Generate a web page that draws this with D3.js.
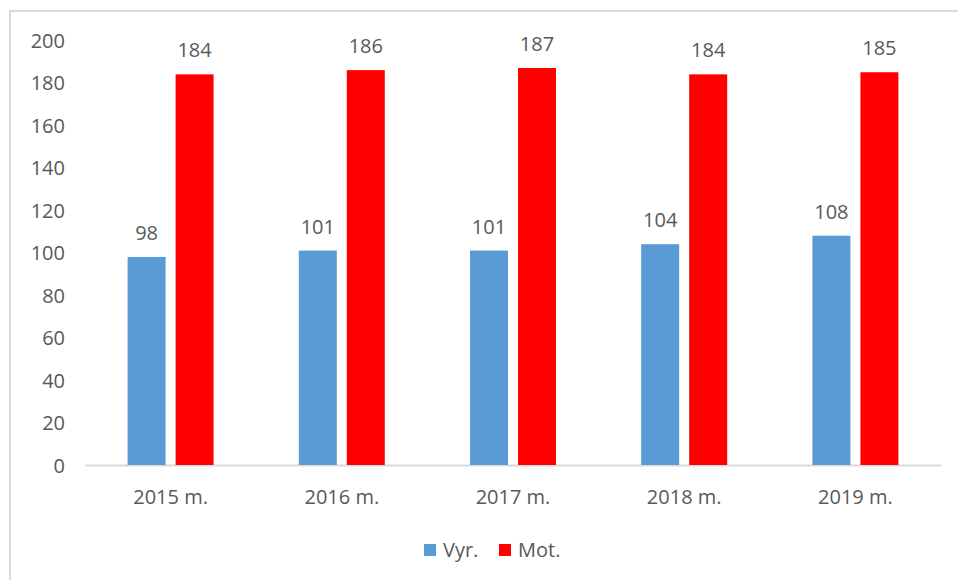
<!DOCTYPE html>
<html><head><meta charset="utf-8">
<script src="https://cdn.jsdelivr.net/npm/d3@7"></script>
<style>
body{margin:0;background:#fff;}
text{font-family:"Open Sans","Liberation Sans",sans-serif;fill:#595959;}
</style></head>
<body><svg id="c" width="958" height="580"></svg>
<script>
const categories = ["2015 m.","2016 m.","2017 m.","2018 m.","2019 m."];
const seriesNames = ["Vyr.","Mot."];
const vyr = [98,101,101,104,108];
const mot = [184,186,187,184,185];
const yTicks = [0,20,40,60,80,100,120,140,160,180,200];
const colors = ["#5b9bd5","#ff0000"];

const svg = d3.select("#c");
const FS = 20;
// outer border
svg.append("rect").attr("x",10).attr("y",11).attr("width",960).attr("height",600)
  .attr("fill","none").attr("stroke","#d9d9d9").attr("stroke-width",2);

const pLeft=85, pRight=941, pTop=40.4, pBottom=465;
const x = d3.scaleBand().domain(categories).range([pLeft,pRight]);
const y = d3.scaleLinear().domain([0,200]).range([pBottom,pTop]);
const bw = 38, gap = 10;
const off = s => s===seriesNames[0] ? -(gap/2+bw) : gap/2;

// y axis labels
const yAxis = d3.axisLeft(y).tickValues(yTicks).tickSize(0).tickPadding(0);
const ga = svg.append("g").attr("transform",`translate(65,0)`).call(yAxis);
ga.select(".domain").remove();
ga.selectAll("text").attr("font-size",FS).attr("fill","#595959").attr("font-family",null).attr("dy","0.35em");

// x axis
const xAxis = d3.axisBottom(x).tickSize(0).tickPadding(0);
const gx = svg.append("g").attr("transform",`translate(0,${pBottom})`).call(xAxis);
gx.select(".domain").attr("stroke","#d9d9d9").attr("stroke-width",2);
gx.selectAll("text").attr("font-size",FS).attr("fill","#595959").attr("font-family",null)
  .attr("y",32).attr("dy","0.35em");

const data = [vyr, mot];
data.forEach((vals,si)=>{
  const g = svg.append("g");
  g.selectAll("rect").data(vals).join("rect")
    .attr("x",(d,i)=>x(categories[i])+x.bandwidth()/2+off(seriesNames[si]))
    .attr("y",d=>y(d)).attr("width",bw).attr("height",d=>pBottom-y(d))
    .attr("fill",colors[si]);
  g.selectAll("text").data(vals).join("text")
    .attr("x",(d,i)=>x(categories[i])+x.bandwidth()/2+off(seriesNames[si])+bw/2)
    .attr("y",d=>y(d)-17).attr("text-anchor","middle").attr("font-size",FS)
    .text(d=>d);
});

// legend
const leg = svg.append("g").attr("transform","translate(424,550)");
const items = [{n:seriesNames[0],c:colors[0],x:0},{n:seriesNames[1],c:colors[1],x:75}];
items.forEach(it=>{
  leg.append("rect").attr("x",it.x).attr("y",-6).attr("width",12).attr("height",12).attr("fill",it.c);
  leg.append("text").attr("x",it.x+19).attr("y",0).attr("dy","0.35em").attr("font-size",FS).text(it.n);
});
</script></body></html>
